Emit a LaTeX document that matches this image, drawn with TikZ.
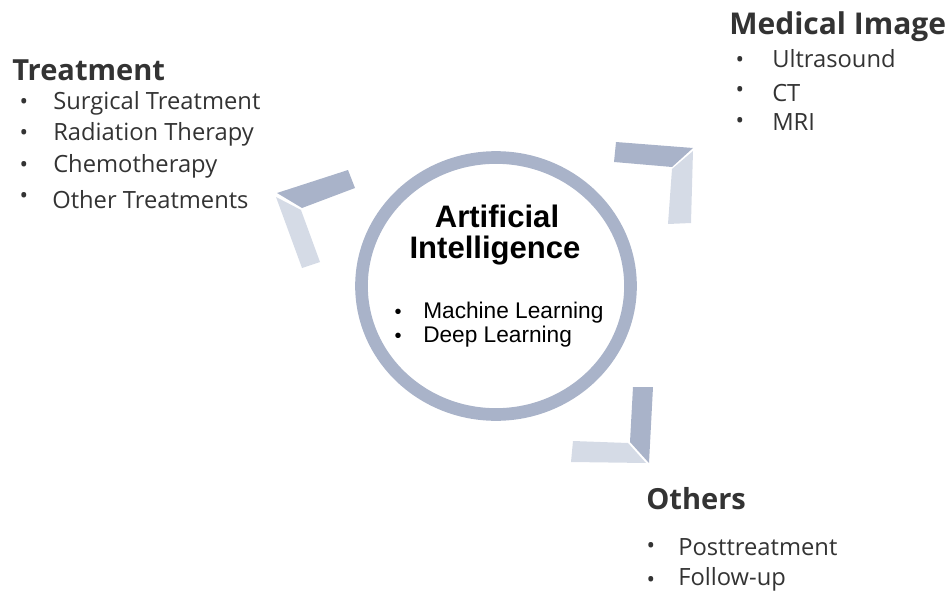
\documentclass[tikz,border=0pt]{standalone}
\usepackage{fontspec}
\setmainfont{Open Sans}
\newfontfamily\arialfont{Liberation Sans}
\begin{document}
\begin{tikzpicture}[x=0.75pt,y=-0.75pt,
  ringcol/.style={draw=aiblue},
  darkpiece/.style={fill=aiblue},
  lightpiece/.style={fill=ailight},
  heading/.style={anchor=base west,inner sep=0pt,text=textgray,font=\fontsize{21.8}{24}\selectfont\bfseries},
  item/.style={anchor=base west,inner sep=0pt,text=textgray,font=\fontsize{17.8}{20}\selectfont},
  dot/.style={anchor=base,inner sep=0pt,text=textgray,font=\fontsize{17}{18}\selectfont},
  aihead/.style={anchor=base,inner sep=0pt,font=\arialfont\fontsize{23.3}{26}\selectfont\bfseries},
  aiitem/.style={anchor=base west,inner sep=0pt,font=\arialfont\fontsize{17}{19}\selectfont},
  aidot/.style={anchor=base,inner sep=0pt,font=\arialfont\fontsize{15}{16}\selectfont},
]
\definecolor{aiblue}{HTML}{A9B3C9}
\definecolor{ailight}{HTML}{D5DBE6}
\definecolor{textgray}{HTML}{333333}
\useasboundingbox (0,0) rectangle (947,592);

% central ring
\draw[ringcol,line width=9.5pt] (496,286) ellipse [x radius=134.5,y radius=128.5];
\node[aihead] (ai1) at (497,227) {Artificial};
\node[aihead] (ai2) at (495,258) {Intelligence};
\node[aidot] (aib1) at (398,318) {•};
\node[aiitem] (ml) at (423,318) {Machine Learning};
\node[aidot] (aib2) at (398,342) {•};
\node[aiitem] (dl) at (423,342) {Deep Learning};

% chevron towards Treatment
\fill[darkpiece] (277,193) -- (348,170) -- (355,188) -- (302,208) -- cycle;
\fill[lightpiece] (276,197) -- (301,210) -- (320,262) -- (302,268) -- cycle;
% chevron towards Medical Image
\fill[darkpiece] (616,142) -- (693,148) -- (672,167) -- (614,162) -- cycle;
\fill[lightpiece] (693,151) -- (691,223) -- (668,224) -- (672,169) -- cycle;
% chevron towards Others
\fill[darkpiece] (633,387) -- (653,387) -- (649,463) -- (630,442) -- cycle;
\fill[lightpiece] (573,441) -- (628,443) -- (646,463) -- (571,462) -- cycle;

% Treatment
\node[heading] (treat) at (12,81) {Treatment};
\node[dot] (tb1) at (24,110) {•};
\node[item] (t1) at (53,110) {Surgical Treatment};
\node[dot] (tb2) at (24,141) {•};
\node[item] (t2) at (53,141) {Radiation Therapy};
\node[dot] (tb3) at (24,172) {•};
\node[item] (t3) at (53,172) {Chemotherapy};
\node[dot] (tb4) at (24,203) {•};
\node[item] (t4) at (52,208) {Other Treatments};

% Medical Image
\node[heading,font=\fontsize{22.5}{24}\selectfont\bfseries] (med) at (729,35) {Medical Image};
\node[dot] (mb1) at (740,68) {•};
\node[item] (m1) at (772,68) {Ultrasound};
\node[dot] (mb2) at (740,98) {•};
\node[item] (m2) at (772,102) {CT};
\node[dot] (mb3) at (740,128) {•};
\node[item] (m3) at (772,131) {MRI};

% Others
\node[heading] (oth) at (646,509) {Others};
\node[dot] (ob1) at (651,553) {•};
\node[item] (o1) at (678,555) {Posttreatment};
\node[dot] (ob2) at (651,587) {•};
\node[item] (o2) at (678,585) {Follow-up};
\end{tikzpicture}
\end{document}
